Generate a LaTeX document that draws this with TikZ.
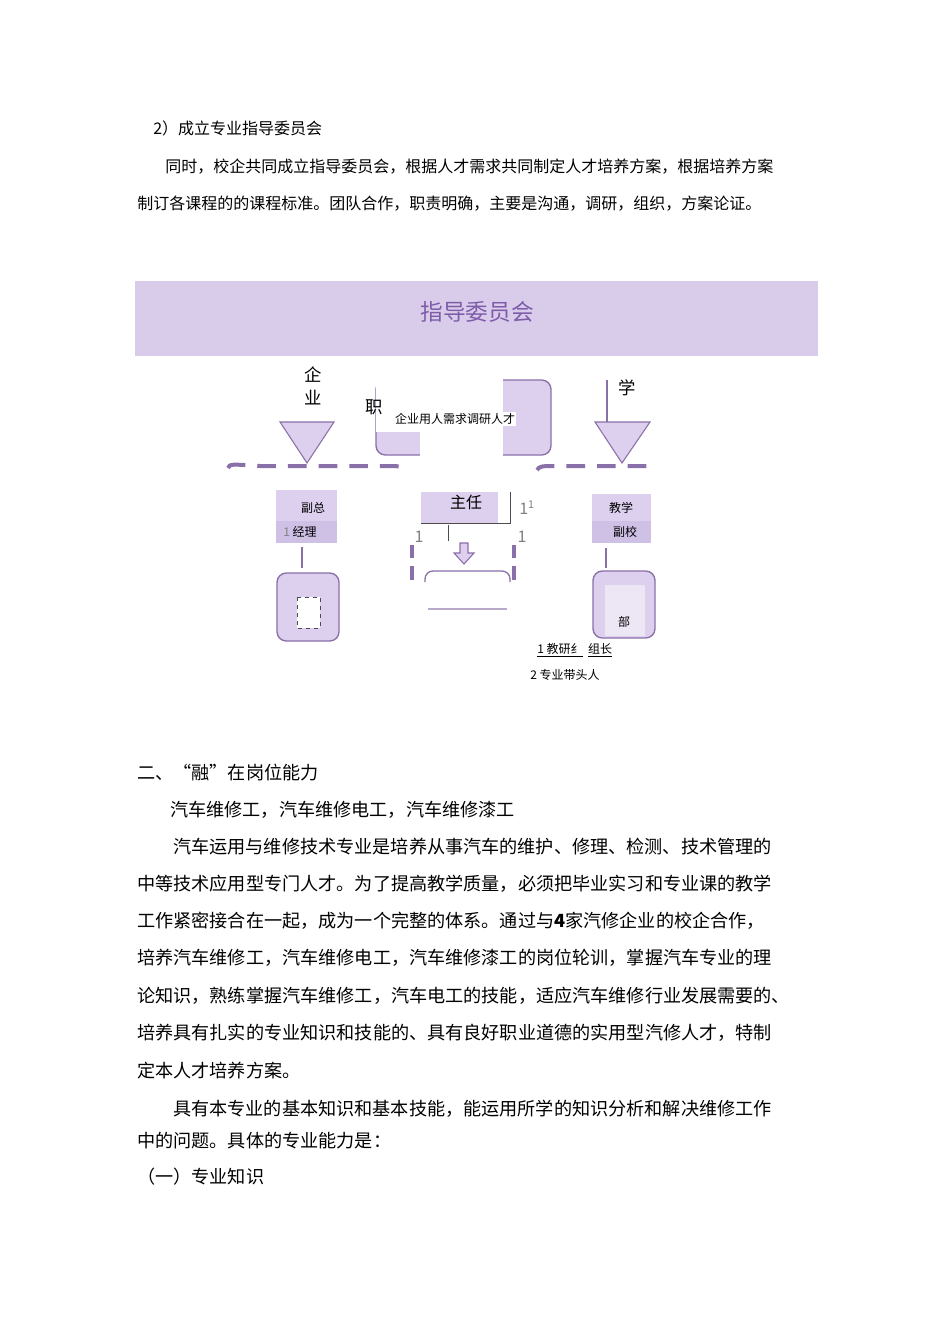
\documentclass[tikz,border=0pt]{standalone}
\usepackage{fontspec}
\setmainfont{Noto Sans CJK SC}
\definecolor{band}{HTML}{D9CCEB}
\definecolor{pur}{HTML}{8A70A8}
\definecolor{boxf}{HTML}{DCD0EE}
\definecolor{boxd}{HTML}{CFC0E6}
\definecolor{ttl}{HTML}{7E5CA8}
\begin{document}
\begin{tikzpicture}[x=0.75pt,y=-0.75pt,
  body/.style={anchor=west,inner sep=0pt,font=\fontsize{13.6}{14}\selectfont},
  sbody/.style={anchor=west,inner sep=0pt,font=\fontsize{12}{13}\selectfont},
  small/.style={inner sep=0pt,font=\fontsize{9}{10}\selectfont},
  tri/.style={draw=pur,fill=boxf,line width=0.8pt},
  rbox/.style={draw=pur,fill=boxf,line width=1pt,rounded corners=7pt},
  dashline/.style={draw=pur,line width=3pt,dash pattern=on 14pt off 9pt}]
\useasboundingbox (0,0) rectangle (950,1344);
\fill[white] (0,0) rectangle (950,1344);
% top text
\node[sbody] (t1) at (153,128) {2）成立专业指导委员会};
\node[sbody] (t2) at (165,167) {同时，校企共同成立指导委员会，根据人才需求共同制定人才培养方案，根据培养方案};
\node[sbody] (t3) at (137,204) {制订各课程的的课程标准。团队合作，职责明确，主要是沟通，调研，组织，方案论证。};
% band
\fill[band] (135,281) rectangle (818,356);
\node[text=ttl,font=\fontsize{17}{18}\selectfont] (hd) at (477,312) {指导委员会};
% left column
\node[font=\fontsize{13}{14}\selectfont] (qi) at (313,375) {企};
\node[font=\fontsize{13}{14}\selectfont] (ye) at (313,398) {业};
\draw[tri] (280,422) -- (334,422) -- (307,463) -- cycle;
% middle top
\fill[boxf,draw=pur,line width=1pt,rounded corners=7pt] (376,380) rectangle (551,455);
\fill[white] (376,378) rectangle (503,410);
\fill[white] (420,410) rectangle (503,458);
\fill[white] (376,410) rectangle (420,432);
\node[font=\fontsize{13}{14}\selectfont] (zhi) at (374,407) {职};
\node[small,fill=white,inner sep=1pt] (xq) at (455,419) {企业用人需求调研人才};
% right top
\draw[pur,line width=1pt] (607,380) -- (607,422);
\draw[tri] (595,422) -- (650,422) -- (622,463) -- cycle;
\node[font=\fontsize{13}{14}\selectfont] (xue) at (627,388) {学};
% dashed line
\draw[dashline] (228,468) .. controls (230,464) .. (260,466) -- (395,466) .. controls (402,467) .. (405,470);
\draw[dashline] (537,470) .. controls (540,466) .. (560,466) -- (657,466);
% left boxes
\fill[boxf] (276,490) rectangle (337,521);
\fill[boxd] (276,521) rectangle (337,543);
\node[small] (fz) at (313,508) {副总};
\node[small] (jl) at (300,532) {\textcolor{gray}{1} 经理};
\draw[pur,line width=1.2pt] (302,547) -- (302,568);
\draw[rbox] (277,573) rectangle (339,641);
\fill[white] (297,597) rectangle (320,628);
\draw[dashed,black!70] (297,597) rectangle (320,628);
% center
\fill[boxf] (421,492) rectangle (498,523);
\draw[black!70] (421,523) -- (510,523) -- (510,492);
\node[font=\fontsize{12}{13}\selectfont] (zr) at (466,502) {主任};
\node[text=gray,font=\fontsize{12}{13}\selectfont] (o1) at (527,508) {1\textsuperscript{1}};
\node[text=gray,font=\fontsize{12}{13}\selectfont] (o2) at (522,537) {1};
\node[text=gray,font=\fontsize{12}{13}\selectfont] (o3) at (419,537) {1};
\draw[pur,line width=2.5pt,dash pattern=on 10pt off 6pt] (412,545) -- (412,580);
\draw[pur,line width=2.5pt,dash pattern=on 10pt off 6pt] (514,545) -- (514,580);
\draw[black!70] (448,525) -- (448,541);
\draw[pur,fill=boxf,line width=0.8pt] (460,543) -- (468,543) -- (468,553) -- (474,553) -- (464,564) -- (454,553) -- (460,553) -- cycle;
\draw[pur,line width=1pt,rounded corners=6pt] (425,582) -- (425,571) -- (510,571) -- (510,582);
\draw[pur!60,line width=1.5pt] (428,609) -- (507,609);
% right boxes
\fill[boxf] (592,494) rectangle (651,521);
\fill[boxd] (592,521) rectangle (651,543);
\node[small] (jx) at (621,508) {教学};
\node[small] (fx) at (625,532) {副校};
\draw[pur,line width=1.2pt] (606,548) -- (606,568);
\draw[rbox] (593,571) rectangle (655,638);
\fill[boxd!40] (605,585) rectangle (645,636);
\node[small] (bu) at (624,622) {部};
\node[small,anchor=west] (n1) at (537,650) {\underline{1 教研纟}\ \ \underline{组长}};
\node[small,anchor=west] (n2) at (530,675) {2 专业带头人};
% lower text
\node[body] (l1) at (137,773) {二、“融”在岗位能力};
\node[body] (l2) at (170,810) {汽车维修工，汽车维修电工，汽车维修漆工};
\node[body] (p1) at (173,847) {汽车运用与维修技术专业是培养从事汽车的维护、修理、检测、技术管理的};
\node[body] (p2) at (137,884) {中等技术应用型专门人才。为了提高教学质量，必须把毕业实习和专业课的教学};
\node[body] (p3) at (137,921) {工作紧密接合在一起，成为一个完整的体系。通过与\textbf{4}家汽修企业的校企合作，};
\node[body] (p4) at (137,958) {培养汽车维修工，汽车维修电工，汽车维修漆工的岗位轮训，掌握汽车专业的理};
\node[body] (p5) at (137,996) {论知识，熟练掌握汽车维修工，汽车电工的技能，适应汽车维修行业发展需要的、};
\node[body] (p6) at (137,1033) {培养具有扎实的专业知识和技能的、具有良好职业道德的实用型汽修人才，特制};
\node[body] (p7) at (137,1071) {定本人才培养方案。};
\node[body] (q1) at (173,1109) {具有本专业的基本知识和基本技能，能运用所学的知识分析和解决维修工作};
\node[body] (q2) at (137,1141) {中的问题。具体的专业能力是：};
\node[body] (q3) at (137,1177) {（一）专业知识};
\end{tikzpicture}
\end{document}
